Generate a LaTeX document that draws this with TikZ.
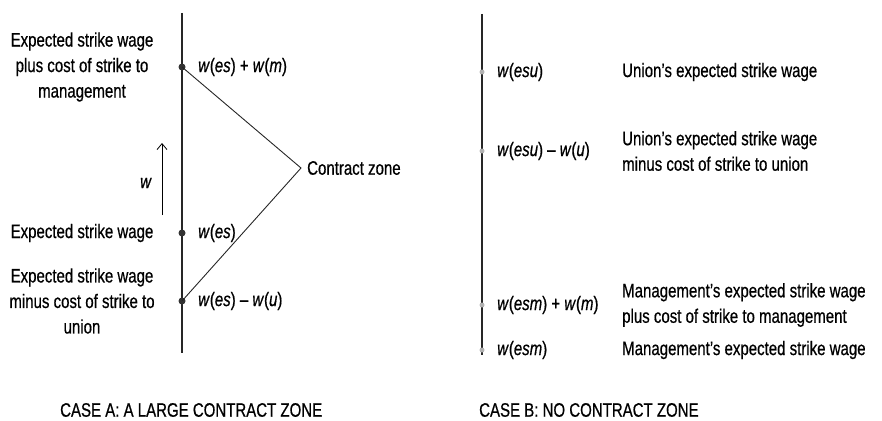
\documentclass[tikz,border=0pt]{standalone}
\usepackage{fontspec}
\setmainfont[FakeStretch=0.77,FakeBold=0.6]{Liberation Sans}
\usepackage{tikz}
\usetikzlibrary{arrows.meta}

\newcommand{\wof}[1]{\textit{w}(\textit{#1})}

\begin{document}
\begin{tikzpicture}[x=1pt,y=-1pt,
    font=\fontsize{19.5}{25.5}\selectfont,
    axis/.style={line width=1.2pt,black!85},
    zone/.style={line width=0.9pt,black!85},
    dot/.style={circle,fill=black!80,inner sep=0pt,minimum size=7pt},
    faintdot/.style={circle,fill=black!30,inner sep=0pt,minimum size=5pt},
    val/.style={anchor=west,inner sep=0pt},
    desc/.style={align=center,inner sep=0pt},
    rdesc/.style={anchor=west,align=left,inner sep=0pt}]
    \useasboundingbox (0,0) rectangle (882,420);

    % Case A: axis
    \coordinate (A top) at (182,13);
    \coordinate (A bot) at (182,353);
    \draw[axis] (A top) -- (A bot);

    % Case A: points on the axis
    \node[dot] (esm) at (182,67) {};
    \node[dot] (es) at (182,233) {};
    \node[dot] (esu) at (182,301) {};

    % Contract zone
    \coordinate (apex) at (301,168);
    \draw[zone] (esm.center) -- (apex) -- (esu.center);
    \node[anchor=west,inner sep=0pt] (zone lbl) at ([xshift=6pt]apex) {Contract zone};

    % Case A: values
    \node[val] (esm val) at (198,67) {\wof{es} + \wof{m}};
    \node[val] (es val) at (198,233) {\wof{es}};
    \node[val] (esu val) at (198,301) {\wof{es} -- \wof{u}};

    % Case A: descriptions
    \node[desc] (esm txt) at (82,67) {Expected strike wage\\plus cost of strike to\\management};
    \node[desc] (es txt) at (82,233) {Expected strike wage};
    \node[desc] (esu txt) at (82,301) {Expected strike wage\\minus cost of strike to\\union};

    % w arrow
    \coordinate (w from) at (162,215);
    \coordinate (w to) at (162,143);
    \draw[line width=0.8pt,-{Straight Barb[length=6pt,width=10pt]}] (w from) -- (w to);
    \node (w lbl) at (146,183) {\textit{w}};

    % Case B: axis
    \coordinate (B top) at (482,14);
    \coordinate (B bot) at (482,355);
    \draw[axis] (B top) -- (B bot);

    % Case B: points on the axis
    \node[faintdot] (uesw) at (482,72) {};
    \node[faintdot] (uesc) at (482,151) {};
    \node[faintdot] (mesc) at (482,305) {};
    \node[faintdot] (mesw) at (482,350) {};

    % Case B: values
    \node[val] (uesw val) at (497,72) {\wof{esu}};
    \node[val] (uesc val) at (497,151) {\wof{esu} -- \wof{u}};
    \node[val] (mesc val) at (497,305) {\wof{esm} + \wof{m}};
    \node[val] (mesw val) at (497,350) {\wof{esm}};

    % Case B: descriptions
    \node[rdesc] (uesw txt) at (622,72) {Union's expected strike wage};
    \node[rdesc] (uesc txt) at (622,151) {Union's expected strike wage\\minus cost of strike to union};
    \node[rdesc] (mesc txt) at (622,305) {Management's expected strike wage\\plus cost of strike to management};
    \node[rdesc] (mesw txt) at (622,350) {Management's expected strike wage};

    % Captions
    \node[anchor=west,inner sep=0pt] (cap A) at (60,410) {CASE A: A LARGE CONTRACT ZONE};
    \node[anchor=west,inner sep=0pt] (cap B) at (479,410) {CASE B: NO CONTRACT ZONE};
\end{tikzpicture}
\end{document}
